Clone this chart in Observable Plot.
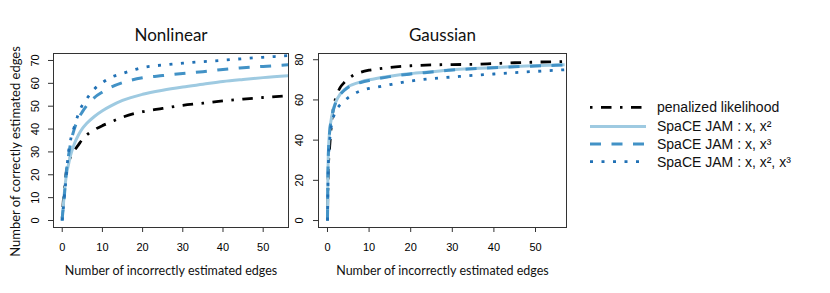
<!DOCTYPE html>
<html><head><meta charset="utf-8">
<script src="https://cdn.jsdelivr.net/npm/d3@7"></script>
<script src="https://cdn.jsdelivr.net/npm/@observablehq/plot@0.6"></script>
<style>
body{margin:0;background:#fff;}
#wrap{position:relative;width:830px;height:293px;overflow:hidden;background:#fff;}
#wrap > svg{position:absolute;top:0;}
</style></head><body><div id="wrap"></div>
<script>
// ---- data ----
const xs = [0,0.1,0.25,0.5,1,1.5,2,3,4,5,6,8,10,12,15,20,25,30,35,40,45,50,57];

const nonlinearPenalized = [1,4,8,13,21,24.5,27.5,30.6,33,35.5,37.3,39.7,41.5,43,45.2,47.6,49,50.4,51.3,52.3,53.1,53.8,54.7];
const nonlinearX2        = [0,3,6,11.5,19.5,24,28,33.5,37.3,40.2,42.3,45.5,48,50,52.5,55.2,57,58.4,59.6,60.8,61.7,62.5,63.4];
const nonlinearX3        = [0,3,5,10,21,27.5,33,40,44.5,47.5,50,53.8,56.2,58.2,60.3,62.4,63.4,64.3,65.1,66.1,66.8,67.4,68.2];
const nonlinearX2X3      = [0,3,5,10,19,29,34.5,41,46.5,50.5,53,57.5,60.3,62.5,64.3,66.9,68,68.8,69.5,70.1,70.8,71.4,72.2];

const gaussianPenalized  = [0,16,28,36,49,57,61,66,68.6,70.6,72,73.8,74.8,75.4,76.2,77,77.4,77.6,77.7,78.1,78.5,78.8,79.1];
const gaussianX2         = [0,22,36,44,51.5,56,59,62.8,65,66.6,67.6,69,70,70.8,71.8,73.1,74,75,75.6,76.1,76.6,77,77.5];
const gaussianX3         = [0,21.5,35.5,43.6,51.2,55.7,58.7,62.5,64.7,66.3,67.3,68.7,69.7,70.5,71.6,72.9,73.9,74.9,75.5,76,76.5,76.9,77.4];
const gaussianX2X3       = [0,16,30,39,48,52,54.5,57.5,59.5,61.2,62.5,64.6,65.7,66.4,67.6,69.4,70.6,71.4,72.2,72.9,73.6,74.2,75];

const seriesNames = ["penalized likelihood", "SpaCE JAM : x, x²", "SpaCE JAM : x, x³", "SpaCE JAM : x, x², x³"];
const panelTitles = ["Nonlinear", "Gaussian"];
const xTicks = [0,10,20,30,40,50];
const yTicksNonlinear = [0,10,20,30,40,50,60,70];
const yTicksGaussian = [0,20,40,60,80];
const xTitle = "Number of incorrectly estimated edges";
const yTitle = "Number of correctly estimated edges";

// ---- styles ----
const styles = [
  {stroke:"#000000", width:2.8, dash:"2.5,8.5,10.5,8.5"},
  {stroke:"#9ecae1", width:3, dash:null},
  {stroke:"#4292c6", width:3, dash:"11,10.5"},
  {stroke:"#2171b5", width:2.8, dash:"3,8.5"}
];

function rowsFor(seriesArrays){
  return seriesArrays.map((ys, s) => xs.map((x, i) => ({x, y: ys[i], s})));
}

const wrap = document.getElementById("wrap");
const tickFont = "Liberation Sans, Arial, sans-serif";
const titleFont = "Lato, Open Sans, sans-serif";

function panel(o){
  const series = rowsFor(o.series);
  const marks = [];
  series.forEach((rows, s) => {
    marks.push(Plot.line(rows, {
      x:"x", y:"y", curve:"monotone-x", clip:true,
      stroke: styles[s].stroke, strokeWidth: styles[s].width,
      strokeDasharray: styles[s].dash || undefined, strokeLinecap:"butt"
    }));
  });
  marks.push(
    Plot.frame({stroke:"#333", strokeWidth:1}),
    Plot.axisX({ticks:xTicks, tickSize:5, tickPadding:11, fontSize:11, fontFamily:tickFont, label:null, stroke:"#333"}),
    Plot.axisY({ticks:o.yTicks, tickSize:5, tickPadding:o.yPad, tickRotate:-90, textAnchor:"middle", lineAnchor:"middle", fontSize:11, fontFamily:tickFont, label:null, stroke:"#333"}),
    Plot.text([o.title], {text:d=>d, frameAnchor:"top", dy:-18, lineAnchor:"middle", fontSize:17, fontFamily:titleFont, fill:"#111"}),
    Plot.text([xTitle], {text:d=>d, frameAnchor:"bottom", dy:43, lineAnchor:"middle", fontSize:12.5, fontFamily:titleFont, fill:"#111"})
  );
  if (o.yTitle) marks.push(Plot.text([o.yTitle], {text:d=>d, frameAnchor:"left", dx:-38, dy:11, rotate:-90, textAnchor:"middle", lineAnchor:"middle", fontSize:13, fontFamily:titleFont, fill:"#111"}));
  const svg = Plot.plot({
    width:o.width, height:293,
    marginLeft:o.marginLeft, marginRight:o.marginRight, marginTop:53, marginBottom:66,
    x:{domain:o.xDomain}, y:{domain:o.yDomain},
    style:{background:"transparent", fontFamily:tickFont, overflow:"visible"},
    marks
  });
  svg.style.left = o.left + "px";
  wrap.appendChild(svg);
}

panel({title:panelTitles[0], series:[nonlinearPenalized,nonlinearX2,nonlinearX3,nonlinearX2X3],
  xDomain:[-2.17,56.3], yDomain:[-3.06,73.05], yTicks:yTicksNonlinear, yPad:13,
  left:0, width:290, marginLeft:53, marginRight:2, yTitle:yTitle});
panel({title:panelTitles[1], series:[gaussianPenalized,gaussianX2,gaussianX3,gaussianX2X3],
  xDomain:[-2.16,57.45], yDomain:[-3.46,83.1], yTicks:yTicksGaussian, yPad:14,
  left:290, width:280, marginLeft:28, marginRight:4});

// ---- legend ----
const leg = d3.select(wrap).append("svg")
  .attr("width",250).attr("height",100)
  .style("left","580px").style("top","90px");
const rowY = [17.3, 36.5, 54, 71.7];
seriesNames.forEach((name, i) => {
  leg.append("line").attr("x1",10).attr("x2",66).attr("y1",rowY[i]).attr("y2",rowY[i])
    .attr("stroke",styles[i].stroke).attr("stroke-width",styles[i].width)
    .attr("stroke-dasharray",styles[i].dash).attr("stroke-linecap","butt");
  leg.append("text").attr("x",77).attr("y",rowY[i]).attr("dy","0.35em")
    .attr("font-family",tickFont).attr("font-size",14).attr("fill","#111").text(name);
});
</script></body></html>
